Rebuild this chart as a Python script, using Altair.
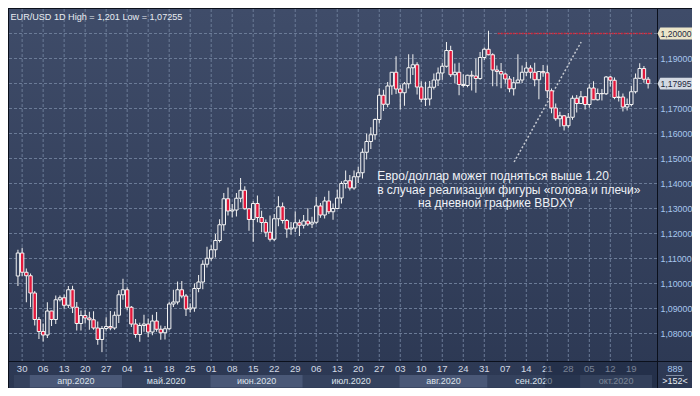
import altair as alt
import pandas as pd

# ---------------- data (EUR/USD daily, 27 Mar 2020 - 23 Oct 2020) ----------------
opens = [
    1.1030,
    1.1122, 1.1045, 1.1031, 1.0962, 1.0856,
    1.0808, 1.0794, 1.0890, 1.0856, 1.0935,
    1.0943, 1.0913, 1.0975, 1.0905, 1.0840,
    1.0872, 1.0862, 1.0855, 1.0822, 1.0776,
    1.0820, 1.0828, 1.0822, 1.0873, 1.0955,
    1.0975, 1.0905, 1.0838, 1.0796, 1.0832,
    1.0838, 1.0806, 1.0850, 1.0817, 1.0803,
    1.0819, 1.0918, 1.0926, 1.0975, 1.0950,
    1.0898, 1.0902, 1.0980, 1.1006, 1.1077,
    1.1101, 1.1135, 1.1172, 1.1235, 1.1339,
    1.1290, 1.1294, 1.1341, 1.1373, 1.1299,
    1.1256, 1.1320, 1.1264, 1.1244, 1.1205,
    1.1177, 1.1259, 1.1307, 1.1252, 1.1218,
    1.1222, 1.1243, 1.1233, 1.1250, 1.1238,
    1.1245, 1.1310, 1.1274, 1.1330, 1.1287,
    1.1300, 1.1342, 1.1400, 1.1411, 1.1382,
    1.1427, 1.1443, 1.1525, 1.1568, 1.1595,
    1.1656, 1.1753, 1.1717, 1.1790, 1.1845,
    1.1778, 1.1763, 1.1799, 1.1863, 1.1875,
    1.1786, 1.1737, 1.1738, 1.1785, 1.1814,
    1.1842, 1.1869, 1.1932, 1.1835, 1.1845,
    1.1796, 1.1792, 1.1833, 1.1830, 1.1820,
    1.1904, 1.1937, 1.1915, 1.1854, 1.1848,
    1.1838, 1.1818, 1.1779, 1.1803, 1.1814,
    1.1845, 1.1862, 1.1845, 1.1815, 1.1848,
    1.1843, 1.1771, 1.1702, 1.1659, 1.1671,
    1.1631, 1.1665, 1.1741, 1.1720, 1.1747,
    1.1716, 1.1782, 1.1735, 1.1760, 1.1759,
    1.1826, 1.1813, 1.1744, 1.1746, 1.1706,
    1.1716, 1.1767, 1.1821, 1.1860, 1.1817,
]
highs = [
    1.1135,
    1.1143, 1.1060, 1.1040, 1.0970, 1.0866,
    1.0840, 1.0925, 1.0891, 1.0952, 1.0952,
    1.0956, 1.0990, 1.0991, 1.0926, 1.0892,
    1.0893, 1.0887, 1.0889, 1.0848, 1.0830,
    1.0865, 1.0890, 1.0888, 1.0973, 1.1019,
    1.0985, 1.0910, 1.0858, 1.0843, 1.0875,
    1.0860, 1.0875, 1.0886, 1.0832, 1.0830,
    1.0926, 1.0975, 1.1008, 1.1010, 1.0958,
    1.0921, 1.1000, 1.1034, 1.1093, 1.1147,
    1.1153, 1.1198, 1.1257, 1.1362, 1.1384,
    1.1318, 1.1362, 1.1422, 1.1389, 1.1300,
    1.1329, 1.1352, 1.1291, 1.1256, 1.1272,
    1.1278, 1.1349, 1.1324, 1.1258, 1.1246,
    1.1288, 1.1256, 1.1274, 1.1301, 1.1267,
    1.1346, 1.1322, 1.1347, 1.1371, 1.1320,
    1.1375, 1.1409, 1.1452, 1.1434, 1.1452,
    1.1467, 1.1540, 1.1600, 1.1625, 1.1660,
    1.1781, 1.1775, 1.1806, 1.1845, 1.1909,
    1.1795, 1.1806, 1.1917, 1.1917, 1.1885,
    1.1809, 1.1807, 1.1810, 1.1840, 1.1864,
    1.1883, 1.1966, 1.1951, 1.1880, 1.1883,
    1.1837, 1.1835, 1.1851, 1.1900, 1.1926,
    1.1944, 1.2011, 1.1921, 1.1872, 1.1882,
    1.1844, 1.1830, 1.1826, 1.1917, 1.1872,
    1.1886, 1.1873, 1.1883, 1.1849, 1.1874,
    1.1872, 1.1780, 1.1720, 1.1687, 1.1674,
    1.1682, 1.1752, 1.1754, 1.1770, 1.1749,
    1.1797, 1.1809, 1.1780, 1.1778, 1.1830,
    1.1830, 1.1824, 1.1771, 1.1760, 1.1740,
    1.1790, 1.1840, 1.1881, 1.1870, 1.1826,
]
lows = [
    1.0990,
    1.1030, 1.0925, 1.0905, 1.0832, 1.0778,
    1.0768, 1.0782, 1.0830, 1.0838, 1.0928,
    1.0899, 1.0902, 1.0882, 1.0812, 1.0812,
    1.0840, 1.0815, 1.0815, 1.0755, 1.07255,
    1.0812, 1.0813, 1.0815, 1.0842, 1.0935,
    1.0893, 1.0826, 1.0783, 1.0767, 1.0807,
    1.0785, 1.0793, 1.0807, 1.0775, 1.0776,
    1.0815, 1.0906, 1.0916, 1.0941, 1.0870,
    1.0884, 1.0887, 1.0965, 1.0977, 1.1064,
    1.1091, 1.1104, 1.1164, 1.1211, 1.1272,
    1.1264, 1.1268, 1.1325, 1.1295, 1.1211,
    1.1167, 1.1245, 1.1205, 1.1186, 1.1168,
    1.1170, 1.1229, 1.1240, 1.1183, 1.1195,
    1.1206, 1.1190, 1.1220, 1.1230, 1.1222,
    1.1238, 1.1263, 1.1260, 1.1278, 1.1255,
    1.1300, 1.1320, 1.1380, 1.1372, 1.1375,
    1.1402, 1.1420, 1.1496, 1.1538, 1.1575,
    1.1640, 1.1690, 1.1705, 1.1755, 1.1758,
    1.1696, 1.1711, 1.1780, 1.1834, 1.1756,
    1.1725, 1.1710, 1.1712, 1.1776, 1.1790,
    1.1815, 1.1864, 1.1826, 1.1802, 1.1753,
    1.1784, 1.1785, 1.1772, 1.1763, 1.1815,
    1.1894, 1.1913, 1.1789, 1.1789, 1.1781,
    1.1800, 1.1765, 1.1752, 1.1800, 1.1802,
    1.1830, 1.1820, 1.1789, 1.1737, 1.1827,
    1.1742, 1.1681, 1.1651, 1.1627, 1.1612,
    1.1621, 1.1655, 1.1684, 1.1718, 1.1696,
    1.1703, 1.1734, 1.1732, 1.1732, 1.1754,
    1.1788, 1.1737, 1.1728, 1.1688, 1.1692,
    1.1709, 1.1760, 1.1818, 1.1803, 1.1780,
]
closes = [
    1.1122,
    1.1045, 1.1031, 1.0962, 1.0856, 1.0808,
    1.0794, 1.0890, 1.0856, 1.0935, 1.0943,
    1.0913, 1.0975, 1.0905, 1.0840, 1.0872,
    1.0862, 1.0855, 1.0822, 1.0776, 1.0820,
    1.0828, 1.0822, 1.0873, 1.0955, 1.0975,
    1.0905, 1.0838, 1.0796, 1.0832, 1.0838,
    1.0806, 1.0850, 1.0817, 1.0803, 1.0819,
    1.0918, 1.0926, 1.0975, 1.0950, 1.0898,
    1.0902, 1.0980, 1.1006, 1.1077, 1.1101,
    1.1135, 1.1172, 1.1235, 1.1339, 1.1290,
    1.1294, 1.1341, 1.1373, 1.1299, 1.1256,
    1.1320, 1.1264, 1.1244, 1.1205, 1.1177,
    1.1259, 1.1307, 1.1252, 1.1218, 1.1222,
    1.1243, 1.1233, 1.1250, 1.1238, 1.1245,
    1.1310, 1.1274, 1.1330, 1.1287, 1.1300,
    1.1342, 1.1400, 1.1411, 1.1382, 1.1427,
    1.1443, 1.1525, 1.1568, 1.1595, 1.1656,
    1.1753, 1.1717, 1.1790, 1.1845, 1.1778,
    1.1763, 1.1799, 1.1863, 1.1875, 1.1786,
    1.1737, 1.1738, 1.1785, 1.1814, 1.1842,
    1.1869, 1.1932, 1.1835, 1.1845, 1.1796,
    1.1792, 1.1833, 1.1830, 1.1820, 1.1904,
    1.1937, 1.1915, 1.1854, 1.1848, 1.1838,
    1.1818, 1.1779, 1.1803, 1.1814, 1.1845,
    1.1862, 1.1845, 1.1815, 1.1848, 1.1843,
    1.1771, 1.1702, 1.1659, 1.1671, 1.1631,
    1.1665, 1.1741, 1.1720, 1.1747, 1.1716,
    1.1782, 1.1735, 1.1760, 1.1759, 1.1826,
    1.1813, 1.1744, 1.1746, 1.1706, 1.1716,
    1.1767, 1.1821, 1.1860, 1.1817, 1.17995,
]

day_labels = ["30", "06", "13", "20", "27", "04", "11", "18", "25", "01", "08", "15",
              "22", "29", "06", "13", "20", "27", "03", "10", "17", "24", "31", "07",
              "14", "21", "28", "05", "12", "19"]
month_names = ["", "апр.2020", "май.2020", "июн.2020", "июл.2020", "авг.2020",
               "сен.2020", "окт.2020"]
grid_levels = [1.08, 1.09, 1.10, 1.11, 1.12, 1.13, 1.14, 1.15, 1.16, 1.17, 1.18, 1.19, 1.20]
axis_levels = [1.08, 1.09, 1.10, 1.11, 1.12, 1.13, 1.14, 1.15, 1.16, 1.17, 1.19]
axis_texts = ["1,08000", "1,09000", "1,10000", "1,11000", "1,12000", "1,13000",
              "1,14000", "1,15000", "1,16000", "1,17000", "1,19000"]
tag_values = [1.20, 1.17995]
tag_texts = ["1,20000", "1,17995"]
header_text = "EUR/USD 1D High = 1,201 Low = 1,07255"
note_lines = ["Евро/доллар может подняться выше 1.20",
              "в случае реализации фигуры «голова и плечи»",
              "на дневной графике BBDXY"]
bars_total = "889"
bars_shown = ">152<"

# ---------------- tables ----------------
dates = pd.bdate_range("2020-03-27", periods=len(opens))
candles = pd.DataFrame({"i": range(len(opens)), "open": opens, "high": highs,
                        "low": lows, "close": closes})
candles["fillc"] = ["#e2173b" if c < o else "#35425f" for o, c in zip(opens, closes)]

mondays = [k for k, d in enumerate(dates) if d.dayofweek == 0]
days_df = pd.DataFrame({"i": mondays, "lab": day_labels})

X_DOM = [-0.9375, 150.92]
Y_DOM = [1.0690, 1.2098]

month_start = [0] + [k for k in range(1, len(dates)) if dates[k].month != dates[k - 1].month]
edges = [X_DOM[0]] + [k - 0.2 for k in month_start[1:]] + [X_DOM[1]]
months_df = pd.DataFrame({
    "a": edges[:-1], "b": edges[1:], "lab": month_names,
    "mid": [(edges[k] + edges[k + 1]) / 2 for k in range(len(month_names))],
    "fc": ["#35425e" if k % 2 == 0 else "#4a5877" for k in range(len(month_names))],
})

W, H = 648, 352
RW = 683   # right end of the drawing, in plot coordinates
BH = 379   # bottom end of the drawing, in plot coordinates
FONT = "Liberation Sans"
xs = alt.Scale(domain=X_DOM, nice=False, zero=False)
ys = alt.Scale(domain=Y_DOM, nice=False, zero=False)
one = pd.DataFrame({"k": [0]})

bg = alt.Chart(one).mark_rect(
    color=alt.LinearGradient(gradient="linear",
                             stops=[alt.GradientStop(color="#3f4c69", offset=0),
                                    alt.GradientStop(color="#2c3853", offset=1)],
                             x1=0, x2=0, y1=0, y2=1)
).encode(x=alt.value(0), x2=alt.value(RW), y=alt.value(0), y2=alt.value(BH))

bands = alt.Chart(months_df).mark_rect().encode(
    x=alt.X("a:Q", scale=xs, axis=None), x2="b:Q",
    y=alt.value(366), y2=alt.value(BH - 0.5),
    fill=alt.Fill("fc:N", scale=None))

hgrid = alt.Chart(pd.DataFrame({"p": grid_levels})).mark_rule(
    color="#6b7b97", strokeDash=[3, 2], strokeWidth=1
).encode(y=alt.Y("p:Q", scale=ys, axis=None), x=alt.value(0), x2=alt.value(W))

vgrid = alt.Chart(days_df).mark_rule(
    color="#6b7b97", strokeDash=[3, 2], strokeWidth=1
).encode(x=alt.X("i:Q", scale=xs, axis=None), y=alt.value(0), y2=alt.value(H))

res = alt.Chart(pd.DataFrame({"a": [114.2], "b": [X_DOM[1]], "p": [1.20]})).mark_rule(
    color="#d3283a", strokeDash=[2, 1], strokeWidth=1.5
).encode(x=alt.X("a:Q", scale=xs, axis=None), x2="b:Q", y=alt.Y("p:Q", scale=ys, axis=None))

diag = alt.Chart(pd.DataFrame({"a": [118.1], "b": [134.05], "p": [1.1486], "q": [1.1966]})).mark_rule(
    color="#c4c8d0", strokeDash=[2, 2], strokeWidth=1.5
).encode(x=alt.X("a:Q", scale=xs, axis=None), x2="b:Q",
         y=alt.Y("p:Q", scale=ys, axis=None), y2="q:Q")

wicks = alt.Chart(candles).mark_rule(color="#f2f2f2", strokeWidth=1).encode(
    x=alt.X("i:Q", scale=xs, axis=None),
    y=alt.Y("low:Q", scale=ys, axis=None), y2="high:Q")

bodies = alt.Chart(candles).mark_bar(width=3.4, stroke="#f4f4f4", strokeWidth=1).encode(
    x=alt.X("i:Q", scale=xs, axis=None),
    y=alt.Y("open:Q", scale=ys, axis=None), y2="close:Q",
    fill=alt.Fill("fillc:N", scale=None))

notes_df = pd.DataFrame({"t": note_lines, "xi": [85.5, 85.5, 95.2],
                         "p": [1.1416, 1.1360, 1.1306]})
notes = alt.Chart(notes_df).mark_text(
    align="left", baseline="alphabetic", font=FONT, fontSize=12, color="#eef1f6"
).encode(x=alt.X("xi:Q", scale=xs, axis=None), y=alt.Y("p:Q", scale=ys, axis=None), text="t:N")

header = alt.Chart(one).mark_text(
    align="left", baseline="alphabetic", font=FONT, fontSize=9.1, color="#e8ecf2",
    text=header_text
).encode(x=alt.value(1.5), y=alt.value(10.5))

days = alt.Chart(days_df).mark_text(
    align="center", baseline="middle", font=FONT, fontSize=9.5, color="#d3dae6"
).encode(x=alt.X("i:Q", scale=xs, axis=None), y=alt.value(360), text="lab:N")

mlabels = alt.Chart(months_df).mark_text(
    align="center", baseline="middle", font=FONT, fontSize=9, color="#dbe1ea"
).encode(x=alt.X("mid:Q", scale=xs, axis=None), y=alt.value(371.5), text="lab:N")

ylabels = alt.Chart(pd.DataFrame({"p": axis_levels, "t": axis_texts})).mark_text(
    align="left", baseline="middle", font=FONT, fontSize=8.8, color="#a9c8ee"
).encode(x=alt.value(651.5), y=alt.Y("p:Q", scale=ys, axis=None), text="t:N")

overlay = alt.Chart(one).mark_rect(color="#1c2740", opacity=0.5).encode(
    x=alt.value(536), x2=alt.value(648), y=alt.value(352.5), y2=alt.value(BH - 0.5))

def hline(y, x1, x2, color="#0b101c"):
    return alt.Chart(one).mark_rule(color=color, strokeWidth=1).encode(
        y=alt.value(y), x=alt.value(x1), x2=alt.value(x2))

def vline(x, y1, y2, color="#0b101c"):
    return alt.Chart(one).mark_rule(color=color, strokeWidth=1).encode(
        x=alt.value(x), y=alt.value(y1), y2=alt.value(y2))

borders = [hline(-0.5, -1, RW), hline(352.5, -1, RW), vline(-0.5, -1, BH),
           vline(648.5, -1, BH)]

tags_df = pd.DataFrame({"p": tag_values, "lab": tag_texts, "fc": ["#ebe5c9", "#d3d9e2"]})
tag_shape = "M -1 0 L -0.84 -0.34 L 1 -0.34 L 1 0.34 L -0.84 0.34 Z"
tags = alt.Chart(tags_df).mark_point(shape=tag_shape, size=35 * 35, filled=True,
                                     opacity=1, strokeWidth=0).encode(
    x=alt.value(666), y=alt.Y("p:Q", scale=ys, axis=None), fill=alt.Fill("fc:N", scale=None))
tag_text = alt.Chart(tags_df).mark_text(
    align="center", baseline="middle", font=FONT, fontSize=8.6, color="#1c2840"
).encode(x=alt.value(667), y=alt.Y("p:Q", scale=ys, axis=None), text="lab:N")

info1 = alt.Chart(one).mark_text(
    align="center", baseline="middle", font=FONT, fontSize=9, color="#a9c8ee", text=bars_total
).encode(x=alt.value(666), y=alt.value(360))
info2 = alt.Chart(one).mark_text(
    align="center", baseline="middle", font=FONT, fontSize=9, color="#e8ecf2", text=bars_shown
).encode(x=alt.value(666), y=alt.value(372))
info_rule = hline(366.5, 657, 675, "#7f8ca3")

chart = alt.layer(
    bg, bands, hgrid, vgrid, res, diag, wicks, bodies, notes, header, days, mlabels,
    ylabels, overlay, *borders, tags, tag_text, info1, info2, info_rule
).properties(
    width=W, height=H,
    autosize=alt.AutoSizeParams(type="none"),
    padding={"left": 1, "top": 1, "right": 35, "bottom": 27},
    background="#bec8d6",
).configure_view(stroke=None)

chart.save("out.html", embed_options={"renderer": "svg", "actions": False})
